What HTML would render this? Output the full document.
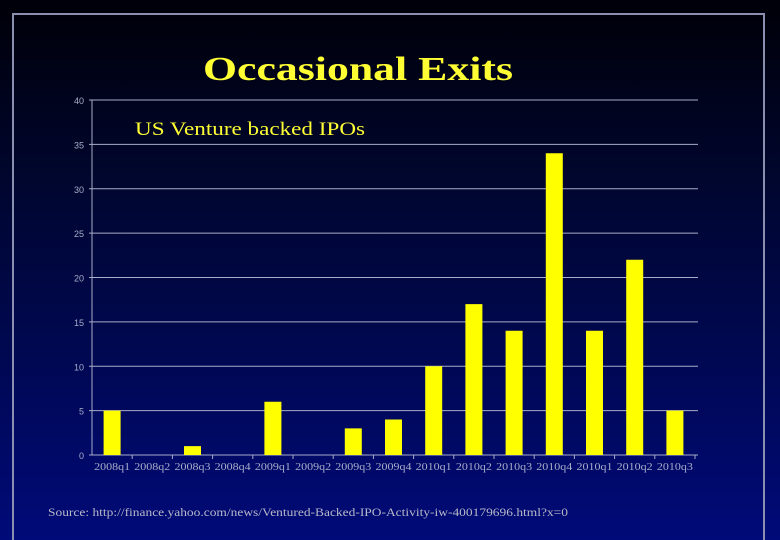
<!DOCTYPE html>
<html><head><meta charset="utf-8"><style>
html,body{margin:0;width:780px;height:540px;overflow:hidden;background:#000a78}
#bg{position:absolute;left:0;top:0;width:780px;height:540px;background:linear-gradient(#000008 0%,#000630 35%,#000a78 100%)}
#frame{position:absolute;left:12px;top:13px;width:753px;height:527px;border:2px solid #8a8fb0;border-bottom:none;box-sizing:border-box}
svg{position:absolute;left:0;top:0}
</style></head><body>
<div id="bg"></div>
<div id="frame"></div>
<svg id="c" width="780" height="540">
<text x="203" y="80" textLength="310" lengthAdjust="spacingAndGlyphs" font-family="Liberation Serif, serif" font-weight="bold" font-size="34" fill="#ffff33">Occasional Exits</text>
<text x="135" y="135" textLength="230" lengthAdjust="spacingAndGlyphs" font-family="Liberation Serif, serif" font-size="19" fill="#ffff33">US Venture backed IPOs</text>
<text x="48" y="516" textLength="520" lengthAdjust="spacingAndGlyphs" font-family="Liberation Serif, serif" font-size="12" fill="#b8b8c8">Source: http://finance.yahoo.com/news/Ventured-Backed-IPO-Activity-iw-400179696.html?x=0</text>
</svg>
<script>
const categories=["2008q1","2008q2","2008q3","2008q4","2009q1","2009q2","2009q3","2009q4","2010q1","2010q2","2010q3","2010q4","2010q1","2010q2","2010q3"];
const values=[5,0,1,0,6,0,3,4,10,17,14,34,14,22,5];
const ticks=[0,5,10,15,20,25,30,35,40];
const svg=document.getElementById('c');const NS='http://www.w3.org/2000/svg';
const x0=92,x1=695,y0=455,y1=100,ymax=40;
const step=(x1-x0)/categories.length;
const y=v=>y0-(v/ymax)*(y0-y1);
const xc=i=>x0+step*(i+0.5);
function mk(t,a){const e=document.createElementNS(NS,t);for(const k in a)e.setAttribute(k,a[k]);svg.appendChild(e);return e;}
ticks.forEach(t=>{
 const g=mk('line',{x1:x0-3,x2:x1+3,y1:y(t),y2:y(t),stroke:'#a8acc8','stroke-width':1});
 
 
 const l=mk('text',{x:x0-8,y:y(t)+4,'text-anchor':'end','font-family':'Liberation Sans, sans-serif','font-size':9,fill:'#a8acc8'});
 l.textContent=t;
 
 
});
const ax=mk('line',{x1:x0,x2:x0,y1:y1,y2:y0,stroke:'#a8acc8','stroke-width':1});


categories.forEach((c,i)=>{
 const tk=mk('line',{x1:x0+step*(i+1),x2:x0+step*(i+1),y1:y0,y2:y0+4,stroke:'#a8acc8'});
 
 
 const l=mk('text',{x:xc(i),y:470,'text-anchor':'middle',textLength:36,lengthAdjust:'spacingAndGlyphs','font-family':'Liberation Serif, serif','font-size':10,fill:'#a8acc8'});
 l.textContent=c;
 
 
 if(values[i]>0){
  const b=mk('rect',{x:xc(i)-8.5,y:y(values[i]),width:17,height:y0-y(values[i]),fill:'#ffff00'});
  
  
 }
});
</script>
</body></html>
